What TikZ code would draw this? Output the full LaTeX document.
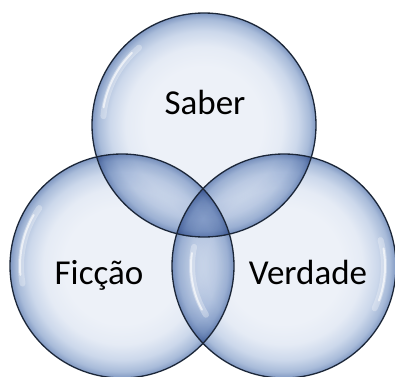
\documentclass[tikz,border=0pt]{standalone}
\usepackage{fontspec}
\setmainfont{Carlito}
\definecolor{bubA}{HTML}{EDF1F8}
\definecolor{bubB}{HTML}{E5EBF5}
\definecolor{bubC}{HTML}{CCD8EB}
\definecolor{bubD}{HTML}{A8BBD9}
\definecolor{bubE}{HTML}{8098C2}
\definecolor{rimline}{HTML}{1B2638}
\pgfdeclareradialshading{bubble}{\pgfpoint{0bp}{0bp}}{color(0bp)=(bubA); color(13bp)=(bubA); color(17.5bp)=(bubB); color(21bp)=(bubC); color(23.6bp)=(bubD); color(25bp)=(bubE); color(50bp)=(bubE)}
\tikzset{
  rim/.style={draw=rimline, line width=1.3pt},
  glowwide/.style={draw=white, line width=6pt, line cap=round, opacity=0.3},
  glownarrow/.style={draw=white, line width=2pt, line cap=round, opacity=0.65},
  lbl/.style={font=\fontsize{35}{40}\selectfont, text=black, anchor=base, inner sep=0pt}
}
\begin{document}
\begin{tikzpicture}[x=1pt,y=1pt]
\useasboundingbox (0,0) rectangle (395,376);
\coordinate (T) at (204,251);
\coordinate (L) at (122,110);
\coordinate (R) at (284,110);
\begin{scope}[blend group=multiply]
  \shade[shading=bubble] (T) circle[radius=112];
  \shade[shading=bubble] (L) circle[radius=112];
  \shade[shading=bubble] (R) circle[radius=112];
\end{scope}
% highlights
\draw[glowwide] ([shift={(130:101)}]T) arc[start angle=130, end angle=175, radius=101];
\draw[glownarrow] ([shift={(135:102)}]T) arc[start angle=135, end angle=170, radius=102];
\draw[glowwide] ([shift={(145:101)}]L) arc[start angle=145, end angle=190, radius=101];
\draw[glownarrow] ([shift={(150:102)}]L) arc[start angle=150, end angle=185, radius=102];
\draw[glowwide] ([shift={(168:92)}]R) arc[start angle=168, end angle=212, radius=92];
\draw[glownarrow] ([shift={(172:93)}]R) arc[start angle=172, end angle=208, radius=93];
\draw[glowwide] ([shift={(-25:100)}]R) arc[start angle=-25, end angle=15, radius=100];
\draw[glownarrow] ([shift={(-20:101)}]R) arc[start angle=-20, end angle=10, radius=101];
% outlines
\draw[rim] (T) circle[radius=112];
\draw[rim] (L) circle[radius=112];
\draw[rim] (R) circle[radius=112];
% labels
\node[lbl] (saber) at (205,262) {Saber};
\node[lbl] (ficcao) at (99,92) {Ficção};
\node[lbl] (verdade) at (308,92) {Verdade};
\end{tikzpicture}
\end{document}
